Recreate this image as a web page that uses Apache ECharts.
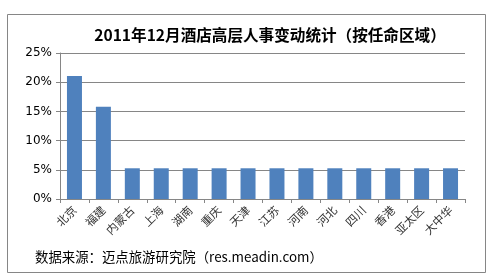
<!DOCTYPE html>
<html><head><meta charset="utf-8">
<script src="https://cdn.jsdelivr.net/npm/echarts@6/dist/echarts.min.js"></script>
<style>html,body{margin:0;padding:0;background:#fff}#c{width:492px;height:278px}</style>
</head><body><div id="c"></div>
<script>
var categories = ['北京','福建','内蒙古','上海','湖南','重庆','天津','江苏','河南','河北','四川','香港','亚太区','大中华'];
var values = [21.05, 15.79, 5.26, 5.26, 5.26, 5.26, 5.26, 5.26, 5.26, 5.26, 5.26, 5.26, 5.26, 5.26];
var yTicks = [0, 5, 10, 15, 20, 25];
var titleText = '2011年12月酒店高层人事变动统计（按任命区域）';
var sourceText = '数据来源：迈点旅游研究院（res.meadin.com）';

var chart = echarts.init(document.getElementById('c'), null, {renderer:'canvas'});
var font = '"Noto Sans CJK SC", "DejaVu Sans", sans-serif';
chart.setOption({
  animation:false,
  backgroundColor:'#fff',
  title:{text:titleText, left:265, top:22, textAlign:'center',
    textStyle:{fontSize:15.6, fontWeight:'bold', color:'#000', fontFamily:font}},
  grid:{left:60, right:27, top:53, bottom:79, containLabel:false},
  xAxis:{type:'category', data:categories,
    axisLine:{lineStyle:{color:'#868686'}},
    axisTick:{show:true, length:4, lineStyle:{color:'#868686'}},
    axisLabel:{rotate:45, fontSize:11.5, color:'#333', margin:9, fontFamily:font, interval:0}},
  yAxis:{type:'value', min:0, max:25, interval:5,
    axisLine:{show:true, lineStyle:{color:'#868686'}},
    axisTick:{show:true, length:4, lineStyle:{color:'#868686'}},
    splitLine:{lineStyle:{color:'#868686'}},
    axisLabel:{fontSize:12, color:'#000', margin:8, fontFamily:'"DejaVu Sans", sans-serif',
      formatter:function(v){return yTicks.indexOf(v)>=0 ? v+'%' : '';}}},
  series:[{type:'bar', data:values, barWidth:15, itemStyle:{color:'#4F81BD'}}],
  graphic:[
    {type:'rect', shape:{x:7.5, y:14.5, width:478, height:258}, style:{fill:null, stroke:'#868686', lineWidth:1}, z:-1},
    {type:'text', left:35, top:250, style:{text:sourceText, fill:'#000', font:'13.4px "Noto Sans CJK SC", sans-serif'}}
  ]
});
</script></body></html>
